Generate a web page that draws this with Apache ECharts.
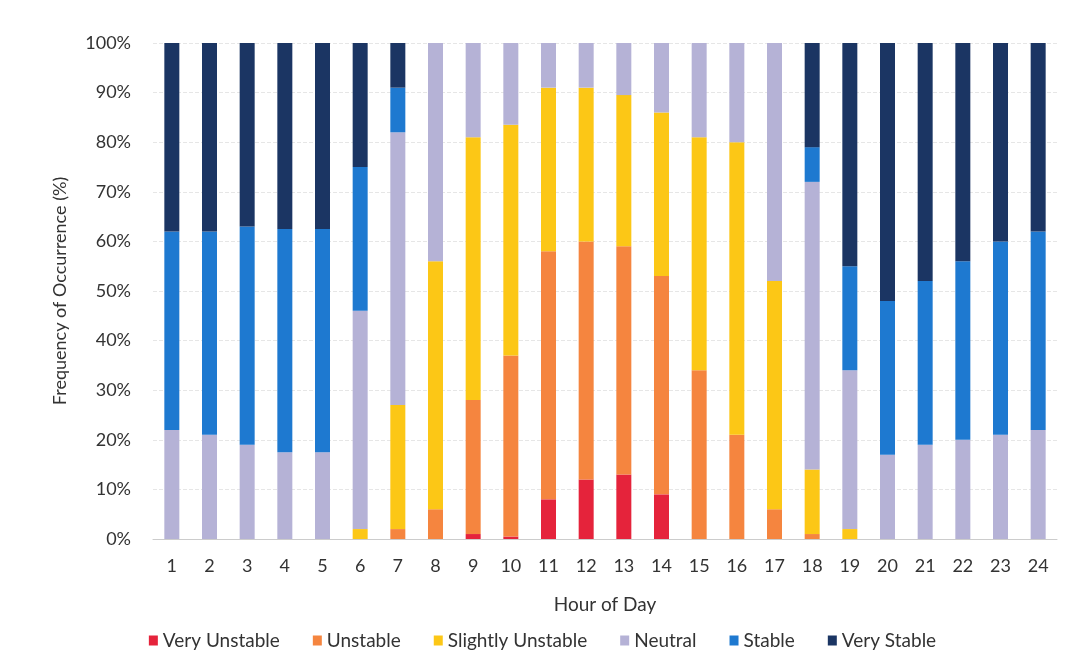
<!DOCTYPE html>
<html>
<head>
<meta charset="utf-8">
<script src="https://cdn.jsdelivr.net/npm/echarts@6/dist/echarts.min.js"></script>
<style>html,body{margin:0;padding:0;background:#fff}#c{width:1085px;height:669px}</style>
</head>
<body>
<div id="c"></div>
<script>
const hours = ['1','2','3','4','5','6','7','8','9','10','11','12','13','14','15','16','17','18','19','20','21','22','23','24'];
const veryUnstable     = [0,0,0,0,0,0,0,0,1,0.5,8,12,13,9,0,0,0,0,0,0,0,0,0,0];
const unstable         = [0,0,0,0,0,0,2,6,27,36.5,50,48,46,44,34,21,6,1,0,0,0,0,0,0];
const slightlyUnstable = [0,0,0,0,0,2,25,50,53,46.5,33,31,30.5,33,47,59,46,13,2,0,0,0,0,0];
const neutral          = [22,21,19,17.5,17.5,44,55,44,19,16.5,9,9,10.5,14,19,20,48,58,32,17,19,20,21,22];
const stable           = [40,41,44,45,45,29,9,0,0,0,0,0,0,0,0,0,0,7,21,31,33,36,39,40];
const veryStable       = [38,38,37,37.5,37.5,25,9,0,0,0,0,0,0,0,0,0,0,21,45,52,48,44,40,38];
const yTicks = [0,10,20,30,40,50,60,70,80,90,100];

const names = ['Very Unstable','Unstable','Slightly Unstable','Neutral','Stable','Very Stable'];
const colors = ['#E5233B','#F5853F','#FCC716','#B5B2D6','#1E79D0','#1B3563'];
const sets = [veryUnstable, unstable, slightlyUnstable, neutral, stable, veryStable];
const font = 'Lato, "Open Sans", sans-serif';

const chart = echarts.init(document.getElementById('c'));
chart.setOption({
  animation: false,
  backgroundColor: '#fff',
  color: colors,
  grid: {left: 153, right: 28, top: 43, bottom: 130},
  legend: {
    top: 626, left: 'center', itemWidth: 9, itemHeight: 10, itemGap: 33,
    icon: 'rect',
    textStyle: {fontFamily: font, fontSize: 19, color: '#333'},
    data: names
  },
  xAxis: {
    type: 'category', data: hours,
    name: 'Hour of Day', nameLocation: 'middle', nameGap: 56,
    nameTextStyle: {fontFamily: font, fontSize: 19, color: '#333'},
    axisLine: {lineStyle: {color: '#ccc'}},
    axisTick: {show: false},
    axisLabel: {fontFamily: font, fontSize: 18, color: '#333', margin: 18}
  },
  yAxis: {
    type: 'value', min: 0, max: 100, interval: 10,
    name: 'Frequency of Occurrence (%)', nameLocation: 'middle', nameGap: 84,
    nameTextStyle: {fontFamily: font, fontSize: 18, color: '#333'},
    axisLine: {show: false}, axisTick: {show: false},
    axisLabel: {fontFamily: font, fontSize: 18, color: '#333', margin: 22,
      formatter: v => yTicks.includes(v) ? v + '%' : ''},
    splitLine: {lineStyle: {color: '#e6e6e6', type: 'dashed'}}
  },
  series: sets.map((d, i) => ({
    name: names[i], type: 'bar', stack: 'total', barWidth: 15,
    data: d, itemStyle: {color: colors[i]}
  }))
});
</script>
</body>
</html>
